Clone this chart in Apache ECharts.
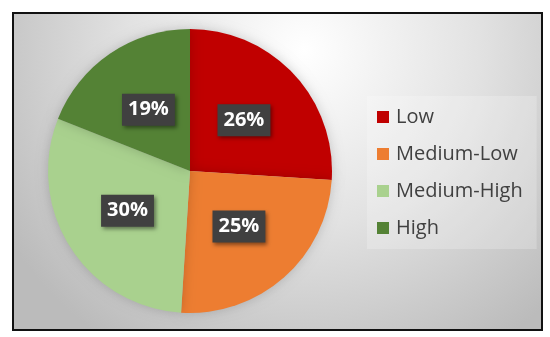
<!DOCTYPE html>
<html><head><meta charset="utf-8">
<script src="https://cdn.jsdelivr.net/npm/echarts@6/dist/echarts.min.js"></script>
<style>html,body{margin:0;padding:0;background:#fff}#c{width:550px;height:337px}</style>
</head><body><div id="c"></div>
<script>
const categories = ['Low', 'Medium-Low', 'Medium-High', 'High'];
const values = [26, 25, 30, 19];
const colors = ['#C00000', '#ED7D31', '#A9D18E', '#548235'];

const chart = echarts.init(document.getElementById('c'), null, {renderer: 'canvas'});
chart.setOption({
  animation: false,
  color: colors,
  graphic: [{
    type: 'rect', z: -10, silent: true,
    shape: {x: 13, y: 13, width: 529, height: 317},
    style: {
      fill: {type: 'radial', x: 0.55, y: 0.12, r: 1.1,
        colorStops: [{offset: 0, color: '#ffffff'}, {offset: 0.5, color: '#e2e2e2'}, {offset: 1, color: '#bbbbbb'}]},
      stroke: '#111', lineWidth: 2
    }
  }],
  legend: {
    orient: 'vertical', left: 367, top: 96,
    backgroundColor: 'rgba(255,255,255,0.22)',
    padding: [9, 14, 9, 10],
    itemWidth: 12, itemHeight: 12, itemGap: 13,
    icon: 'rect',
    textStyle: {fontFamily: 'Open Sans', fontSize: 20, color: '#404040', lineHeight: 24, padding: [0, 0, 0, 2]},
    data: categories
  },
  series: [{
    type: 'pie', center: [190, 171], radius: [0, 142],
    startAngle: 90, clockwise: true,
    itemStyle: {shadowBlur: 12, shadowColor: 'rgba(0,0,0,0.18)'},
    label: {
      position: 'inside', formatter: '{c}%',
      color: '#fff', fontFamily: 'Open Sans', fontWeight: 'bold', fontSize: 20,
      backgroundColor: '#404040', padding: [7, 6, 5, 6],
      shadowBlur: 4, shadowOffsetX: 2, shadowOffsetY: 2, shadowColor: 'rgba(0,0,0,0.45)'
    },
    labelLine: {show: false},
    emphasis: {disabled: true},
    data: categories.map((n, i) => ({name: n, value: values[i]}))
  }]
});
</script></body></html>
